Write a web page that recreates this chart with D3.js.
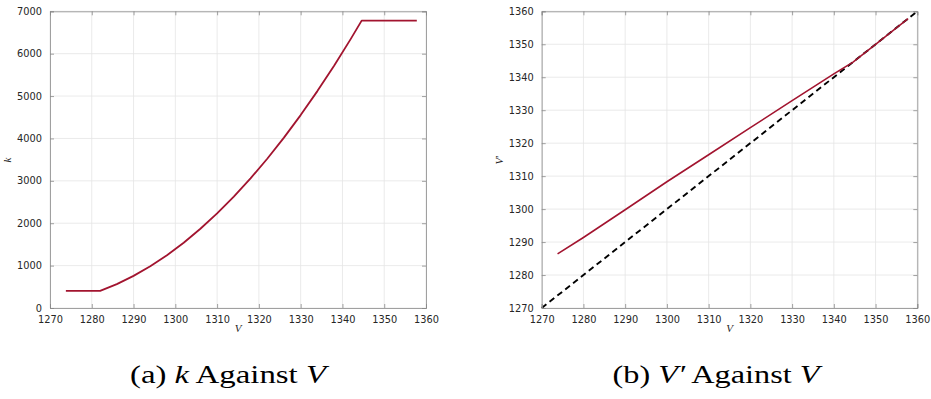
<!DOCTYPE html>
<html><head><meta charset="utf-8">
<script src="https://cdn.jsdelivr.net/npm/d3@7/dist/d3.min.js"></script>
<style>
html,body{margin:0;padding:0;background:#fff;}
svg{display:block;}
</style></head>
<body><svg id="c" width="931" height="399"></svg>
<script>
// ---- data ----
const xTicks = [1270,1280,1290,1300,1310,1320,1330,1340,1350,1360];
const kTicks = [0,1000,2000,3000,4000,5000,6000,7000];
const vpTicks = [1270,1280,1290,1300,1310,1320,1330,1340,1350,1360];

const kV = [1273.8,1282,1286,1290,1294,1298,1302,1306,1310,1314,1318,1322,1326,1330,1334,1338,1342,1344.6,1357.8];
const kVal = [405,405,564,758,984,1245,1539,1869,2231,2627,3058,3522,4019,4551,5117,5717,6350,6780,6780];

const vpV = [1273.8,1280,1290,1300,1310,1320,1330,1340,1344.6,1350,1357.8];
const vpVal = [1286.4,1291.4,1299.8,1308.3,1316.5,1324.7,1332.9,1341.0,1344.6,1350,1357.8];

const idV = [1270,1360];
const idVal = [1270,1360];

// ---- drawing ----
const svg = d3.select("#c");
const red = "#A2142F";
const tickColor = "#262626";

function panel(left, right, yDomain, yTicks, yLabel, yLabelPrime, series){
  const top = 11.3, bottom = 308;
  const x = d3.scaleLinear().domain([1270,1360]).range([left,right]);
  const y = d3.scaleLinear().domain(yDomain).range([bottom,top]);
  const g = svg.append("g");
  // grid
  g.append("g").selectAll("line").data(xTicks).join("line")
    .attr("x1",d=>x(d)).attr("x2",d=>x(d)).attr("y1",top).attr("y2",bottom)
    .attr("stroke","#e5e5e5").attr("stroke-width",0.8);
  g.append("g").selectAll("line").data(yTicks).join("line")
    .attr("y1",d=>y(d)).attr("y2",d=>y(d)).attr("x1",left).attr("x2",right)
    .attr("stroke","#e5e5e5").attr("stroke-width",0.8);
  // series
  series.forEach(s=>{
    const line = d3.line().x((d,i)=>x(s.xs[i])).y((d,i)=>y(s.ys[i]));
    g.append("path").attr("d", line(s.ys)).attr("fill","none")
      .attr("stroke", s.color).attr("stroke-width", s.width)
      .attr("stroke-linejoin","round")
      .attr("stroke-dasharray", s.dash || null);
  });
  // axes
  const ax = d3.axisBottom(x).tickValues(xTicks).tickSize(-4).tickPadding(8).tickFormat(d3.format("d"));
  const axT = d3.axisTop(x).tickValues(xTicks).tickSize(-4).tickFormat("");
  const ay = d3.axisLeft(y).tickValues(yTicks).tickSize(-4).tickPadding(8).tickFormat(d3.format("d"));
  const ayR = d3.axisRight(y).tickValues(yTicks).tickSize(-4).tickFormat("");
  const style = sel => {
    sel.selectAll(".domain").attr("stroke","#8a8a8a").attr("stroke-width",0.8);
    sel.selectAll(".tick line").attr("stroke","#8a8a8a").attr("stroke-width",0.8);
    sel.selectAll("text").attr("fill",tickColor).attr("font-family","DejaVu Sans").attr("font-size",9.8);
  };
  g.append("g").attr("transform",`translate(0,${bottom})`).call(ax).call(style);
  g.append("g").attr("transform",`translate(0,${top})`).call(axT).call(style);
  g.append("g").attr("transform",`translate(${left},0)`).call(ay).call(style);
  g.append("g").attr("transform",`translate(${right},0)`).call(ayR).call(style);
  // labels
  g.append("text").attr("x",(left+right)/2).attr("y",332).attr("text-anchor","middle")
    .attr("font-family","Liberation Serif").attr("font-style","italic").attr("font-size",11)
    .attr("fill",tickColor).text("V");
  const yl = g.append("text").attr("transform",`translate(${left-39},160) rotate(-90)`)
    .attr("text-anchor","middle").attr("font-family","Liberation Serif").attr("font-style","italic")
    .attr("font-size",11).attr("fill",tickColor).text(yLabel);
  if (yLabelPrime) yl.append("tspan").attr("font-style","normal").text("\u2032");
}

panel(50, 426, [0,7000], kTicks, "k", false, [
  {xs:kV, ys:kVal, color:red, width:1.8}
]);
panel(541.7, 917.3, [1270,1360], vpTicks, "V", true, [
  {xs:idV, ys:idVal, color:"#000", width:1.9, dash:"6,4"},
  {xs:vpV, ys:vpVal, color:red, width:1.6}
]);

// captions
function caption(cx, width, parts){
  const t = svg.append("text").attr("x",cx).attr("y",383).attr("text-anchor","middle")
    .attr("font-family","Liberation Serif").attr("font-size",26).attr("fill","#000")
    .attr("textLength",width).attr("lengthAdjust","spacingAndGlyphs");
  parts.forEach(p=>{
    t.append("tspan").attr("font-style", p.it ? "italic":"normal").text(p.t);
  });
}
caption(228, 196, [{t:"(a) "},{t:"k",it:true},{t:" Against "},{t:"V",it:true}]);
caption(716, 207, [{t:"(b) "},{t:"V\u2032",it:true},{t:" Against "},{t:"V",it:true}]);
</script></body></html>
